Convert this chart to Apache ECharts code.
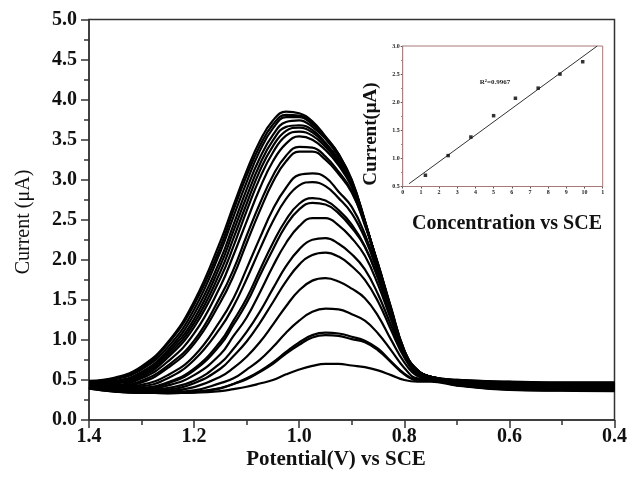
<!DOCTYPE html>
<html>
<head>
<meta charset="utf-8">
<script src="https://cdn.jsdelivr.net/npm/echarts@6/dist/echarts.min.js"></script>
<style>
html,body{margin:0;padding:0;background:#fff;}
#c{width:630px;height:477px;}
</style>
</head>
<body>
<div id="c"></div>
<script>
// ---- main DPV data (potential in V, current in uA) ----
const potentials = [1.40,1.35,1.30,1.25,1.20,1.15,1.125,1.10,1.075,1.05,1.025,1.00,0.975,0.95,0.925,0.90,0.875,0.85,0.825,0.80,0.775,0.75,0.70,0.60,0.50,0.40];
const c1  = [0.49,0.53,0.67,0.97,1.48,2.23,2.68,3.11,3.48,3.74,3.85,3.83,3.73,3.54,3.32,3.00,2.48,1.90,1.35,0.84,0.62,0.54,0.50,0.48,0.47,0.47];
const c2  = [0.48,0.52,0.65,0.95,1.44,2.16,2.62,3.05,3.42,3.69,3.81,3.80,3.71,3.53,3.32,2.98,2.48,1.91,1.36,0.84,0.62,0.54,0.50,0.475,0.465,0.465];
const c3  = [0.48,0.51,0.63,0.91,1.38,2.10,2.54,2.97,3.36,3.64,3.78,3.78,3.69,3.52,3.30,2.99,2.49,1.92,1.36,0.85,0.62,0.54,0.495,0.47,0.46,0.46];
const c4  = [0.47,0.49,0.60,0.87,1.32,2.00,2.44,2.88,3.27,3.56,3.72,3.74,3.66,3.51,3.29,2.97,2.48,1.92,1.37,0.85,0.62,0.54,0.49,0.465,0.455,0.455];
const c5  = [0.46,0.48,0.58,0.84,1.26,1.93,2.36,2.79,3.19,3.49,3.66,3.68,3.62,3.46,3.25,2.94,2.46,1.91,1.35,0.84,0.62,0.54,0.49,0.46,0.45,0.45];
const c6  = [0.46,0.47,0.56,0.81,1.21,1.85,2.27,2.70,3.11,3.42,3.61,3.65,3.59,3.44,3.24,2.94,2.47,1.93,1.36,0.84,0.62,0.54,0.485,0.455,0.445,0.445];
const c7  = [0.45,0.46,0.54,0.78,1.16,1.77,2.17,2.61,3.02,3.34,3.55,3.60,3.55,3.41,3.21,2.93,2.46,1.93,1.38,0.85,0.62,0.54,0.48,0.45,0.44,0.44];
const c8  = [0.45,0.44,0.52,0.73,1.08,1.67,2.06,2.48,2.89,3.23,3.45,3.54,3.50,3.37,3.18,2.91,2.46,1.95,1.40,0.87,0.62,0.54,0.48,0.445,0.435,0.435];
const c9  = [0.44,0.43,0.49,0.68,0.99,1.54,1.88,2.30,2.70,3.05,3.30,3.41,3.40,3.29,3.10,2.86,2.43,1.95,1.38,0.87,0.62,0.54,0.475,0.44,0.43,0.43];
const c10 = [0.43,0.42,0.47,0.65,0.95,1.47,1.80,2.21,2.61,2.97,3.23,3.35,3.35,3.25,3.07,2.84,2.45,1.94,1.39,0.87,0.62,0.54,0.47,0.435,0.425,0.425];
const c11 = [0.43,0.41,0.44,0.56,0.80,1.24,1.52,1.89,2.27,2.63,2.90,3.06,3.08,3.03,2.85,2.66,2.32,1.86,1.33,0.85,0.60,0.54,0.47,0.43,0.42,0.42];
const c12 = [0.42,0.40,0.42,0.52,0.75,1.15,1.42,1.76,2.13,2.48,2.76,2.93,2.97,2.92,2.77,2.58,2.27,1.83,1.32,0.84,0.60,0.54,0.465,0.425,0.415,0.415];
const c13 = [0.42,0.39,0.40,0.47,0.64,0.98,1.24,1.52,1.87,2.21,2.50,2.70,2.77,2.74,2.62,2.44,2.17,1.77,1.27,0.82,0.59,0.53,0.46,0.42,0.41,0.41];
const c14 = [0.415,0.385,0.39,0.455,0.62,0.94,1.19,1.46,1.80,2.13,2.43,2.63,2.71,2.69,2.58,2.40,2.16,1.77,1.28,0.85,0.60,0.53,0.455,0.415,0.405,0.405];
const c15 = [0.415,0.38,0.38,0.43,0.56,0.82,1.05,1.28,1.59,1.92,2.21,2.42,2.52,2.52,2.43,2.27,2.05,1.69,1.25,0.84,0.59,0.53,0.455,0.41,0.40,0.40];
const c16 = [0.41,0.375,0.37,0.40,0.49,0.71,0.89,1.10,1.35,1.64,1.92,2.13,2.25,2.27,2.20,2.07,1.88,1.57,1.18,0.81,0.57,0.53,0.45,0.405,0.395,0.395];
const c17 = [0.41,0.37,0.36,0.38,0.46,0.64,0.80,0.98,1.21,1.47,1.73,1.94,2.06,2.09,2.04,1.92,1.75,1.48,1.12,0.78,0.57,0.52,0.445,0.40,0.39,0.39];
const c18 = [0.405,0.365,0.35,0.36,0.41,0.54,0.65,0.79,0.97,1.19,1.42,1.62,1.74,1.77,1.73,1.64,1.52,1.30,1.00,0.72,0.55,0.52,0.44,0.395,0.385,0.385];
const c19 = [0.40,0.36,0.345,0.35,0.37,0.46,0.52,0.63,0.75,0.91,1.09,1.24,1.35,1.39,1.38,1.32,1.24,1.08,0.87,0.65,0.52,0.51,0.44,0.39,0.38,0.38];
const c20 = [0.40,0.36,0.34,0.335,0.35,0.40,0.45,0.52,0.61,0.72,0.85,0.97,1.06,1.09,1.08,1.04,0.99,0.89,0.73,0.58,0.50,0.50,0.435,0.385,0.375,0.375];
const c21 = [0.395,0.355,0.34,0.335,0.345,0.395,0.45,0.51,0.60,0.70,0.83,0.94,1.03,1.06,1.05,1.01,0.97,0.87,0.72,0.57,0.50,0.50,0.435,0.38,0.37,0.37];
const c22 = [0.39,0.355,0.34,0.335,0.34,0.36,0.385,0.415,0.455,0.50,0.57,0.63,0.675,0.70,0.70,0.68,0.66,0.62,0.56,0.50,0.48,0.48,0.43,0.375,0.365,0.36];
const curves = [c1,c2,c3,c4,c5,c6,c7,c8,c9,c10,c11,c12,c13,c14,c15,c16,c17,c18,c19,c20,c21,c22];

// ---- inset calibration data ----
const concentration = [1.25, 2.5, 3.75, 5.0, 6.2, 7.45, 8.65, 9.9];
const peakCurrent   = [0.70, 1.05, 1.38, 1.76, 2.07, 2.25, 2.50, 2.72];
const fitX = [0.35, 10.7];
const fitY = [0.55, 3.0];
const insetXLabels = ['0','1','2','3','4','5','6','7','8','9','10','1'];
const r2Text = 'R\u00B2=0.9967';

const SERIF = '"Liberation Serif","Times New Roman","DejaVu Serif",serif';

const chart = echarts.init(document.getElementById('c'), null, {renderer:'canvas'});

const series = curves.map((ys) => ({
  type: 'line',
  xAxisIndex: 0, yAxisIndex: 0,
  data: potentials.map((p, j) => [p, ys[j]]),
  showSymbol: false,
  smooth: 0.45,
  lineStyle: {color: '#000', width: 2.2},
  silent: true,
  z: 2
}));

series.push({
  type: 'line',
  xAxisIndex: 1, yAxisIndex: 1,
  data: fitX.map((x, i) => [x, fitY[i]]),
  showSymbol: false,
  lineStyle: {color: '#333', width: 1},
  silent: true,
  z: 5
});
series.push({
  type: 'scatter',
  xAxisIndex: 1, yAxisIndex: 1,
  data: concentration.map((x, i) => [x, peakCurrent[i]]),
  symbol: 'rect',
  symbolSize: 3.5,
  itemStyle: {color: '#000'},
  silent: true,
  z: 6
});

const option = {
  animation: false,
  backgroundColor: '#fff',
  grid: [
    {left: 89, top: 19.5, width: 527, height: 400.5, show: true, borderColor: '#333', borderWidth: 1.5, backgroundColor: 'transparent', containLabel: false},
    {left: 402.7, top: 46, width: 200, height: 140.5, show: true, borderColor: '#a87878', borderWidth: 1, backgroundColor: '#fff', containLabel: false, z: 4}
  ],
  xAxis: [
    {
      gridIndex: 0, type: 'value', min: 0.4, max: 1.4, interval: 0.2, inverse: true,
      axisLine: {show: true, onZero: false, lineStyle: {color: '#333', width: 1.5}},
      axisTick: {show: true, inside: false, length: 8, lineStyle: {color: '#333', width: 1.5}},
      minorTick: {show: true, splitNumber: 2, length: 5, lineStyle: {color: '#333', width: 1.5}},
      splitLine: {show: false},
      axisLabel: {color: '#111', fontFamily: SERIF, fontWeight: 'bold', fontSize: 20, margin: 7, formatter: v => v.toFixed(1)}
    },
    {
      gridIndex: 1, type: 'value', min: 0, max: 11, interval: 1,
      axisLine: {show: true, onZero: false, lineStyle: {color: '#b06060', width: 1}},
      axisTick: {show: true, length: 2, lineStyle: {color: '#555', width: 1}},
      splitLine: {show: false},
      axisLabel: {color: '#222', fontFamily: SERIF, fontWeight: 'bold', fontSize: 6, margin: 3,
        formatter: v => insetXLabels[Math.round(v)]}
    }
  ],
  yAxis: [
    {
      gridIndex: 0, type: 'value', min: 0, max: 5, interval: 0.5,
      axisLine: {show: true, onZero: false, lineStyle: {color: '#333', width: 1.5}},
      axisTick: {show: true, inside: false, length: 8, lineStyle: {color: '#333', width: 1.5}},
      minorTick: {show: true, splitNumber: 2, length: 5, lineStyle: {color: '#333', width: 1.5}},
      splitLine: {show: false},
      axisLabel: {color: '#111', fontFamily: SERIF, fontWeight: 'bold', fontSize: 20, margin: 12, formatter: v => v.toFixed(1)}
    },
    {
      gridIndex: 1, type: 'value', min: 0.5, max: 3.0, interval: 0.5,
      axisLine: {show: true, onZero: false, lineStyle: {color: '#888', width: 1}},
      axisTick: {show: true, length: 2, lineStyle: {color: '#555', width: 1}},
      minorTick: {show: true, splitNumber: 2, length: 1.5, lineStyle: {color: '#777'}},
      splitLine: {show: false},
      axisLabel: {color: '#222', fontFamily: SERIF, fontWeight: 'bold', fontSize: 6, margin: 3, formatter: v => v.toFixed(1)}
    }
  ],
  graphic: [
    {type: 'text', x: 24, y: 222, rotation: Math.PI / 2,
      style: {text: 'Current (\u03BCA)', font: '20px ' + SERIF, fill: '#111', textAlign: 'center', textVerticalAlign: 'middle'}},
    {type: 'text', x: 336, y: 460,
      style: {text: 'Potential(V) vs SCE', font: 'bold 21px ' + SERIF, fill: '#111', textAlign: 'center', textVerticalAlign: 'middle'}},
    {type: 'text', x: 371, y: 134, rotation: Math.PI / 2, z: 10,
      style: {text: 'Current(\u03BCA)', font: 'bold 19px ' + SERIF, fill: '#111', textAlign: 'center', textVerticalAlign: 'middle'}},
    {type: 'text', x: 507, y: 224, z: 10,
      style: {text: 'Concentration vs SCE', font: 'bold 20px ' + SERIF, fill: '#111', textAlign: 'center', textVerticalAlign: 'middle'}},
    {type: 'text', x: 495, y: 82, z: 10,
      style: {text: r2Text, font: 'bold 7px ' + SERIF, fill: '#222', textAlign: 'center', textVerticalAlign: 'middle'}}
  ],
  series: series
};
chart.setOption(option);
</script>
</body>
</html>
